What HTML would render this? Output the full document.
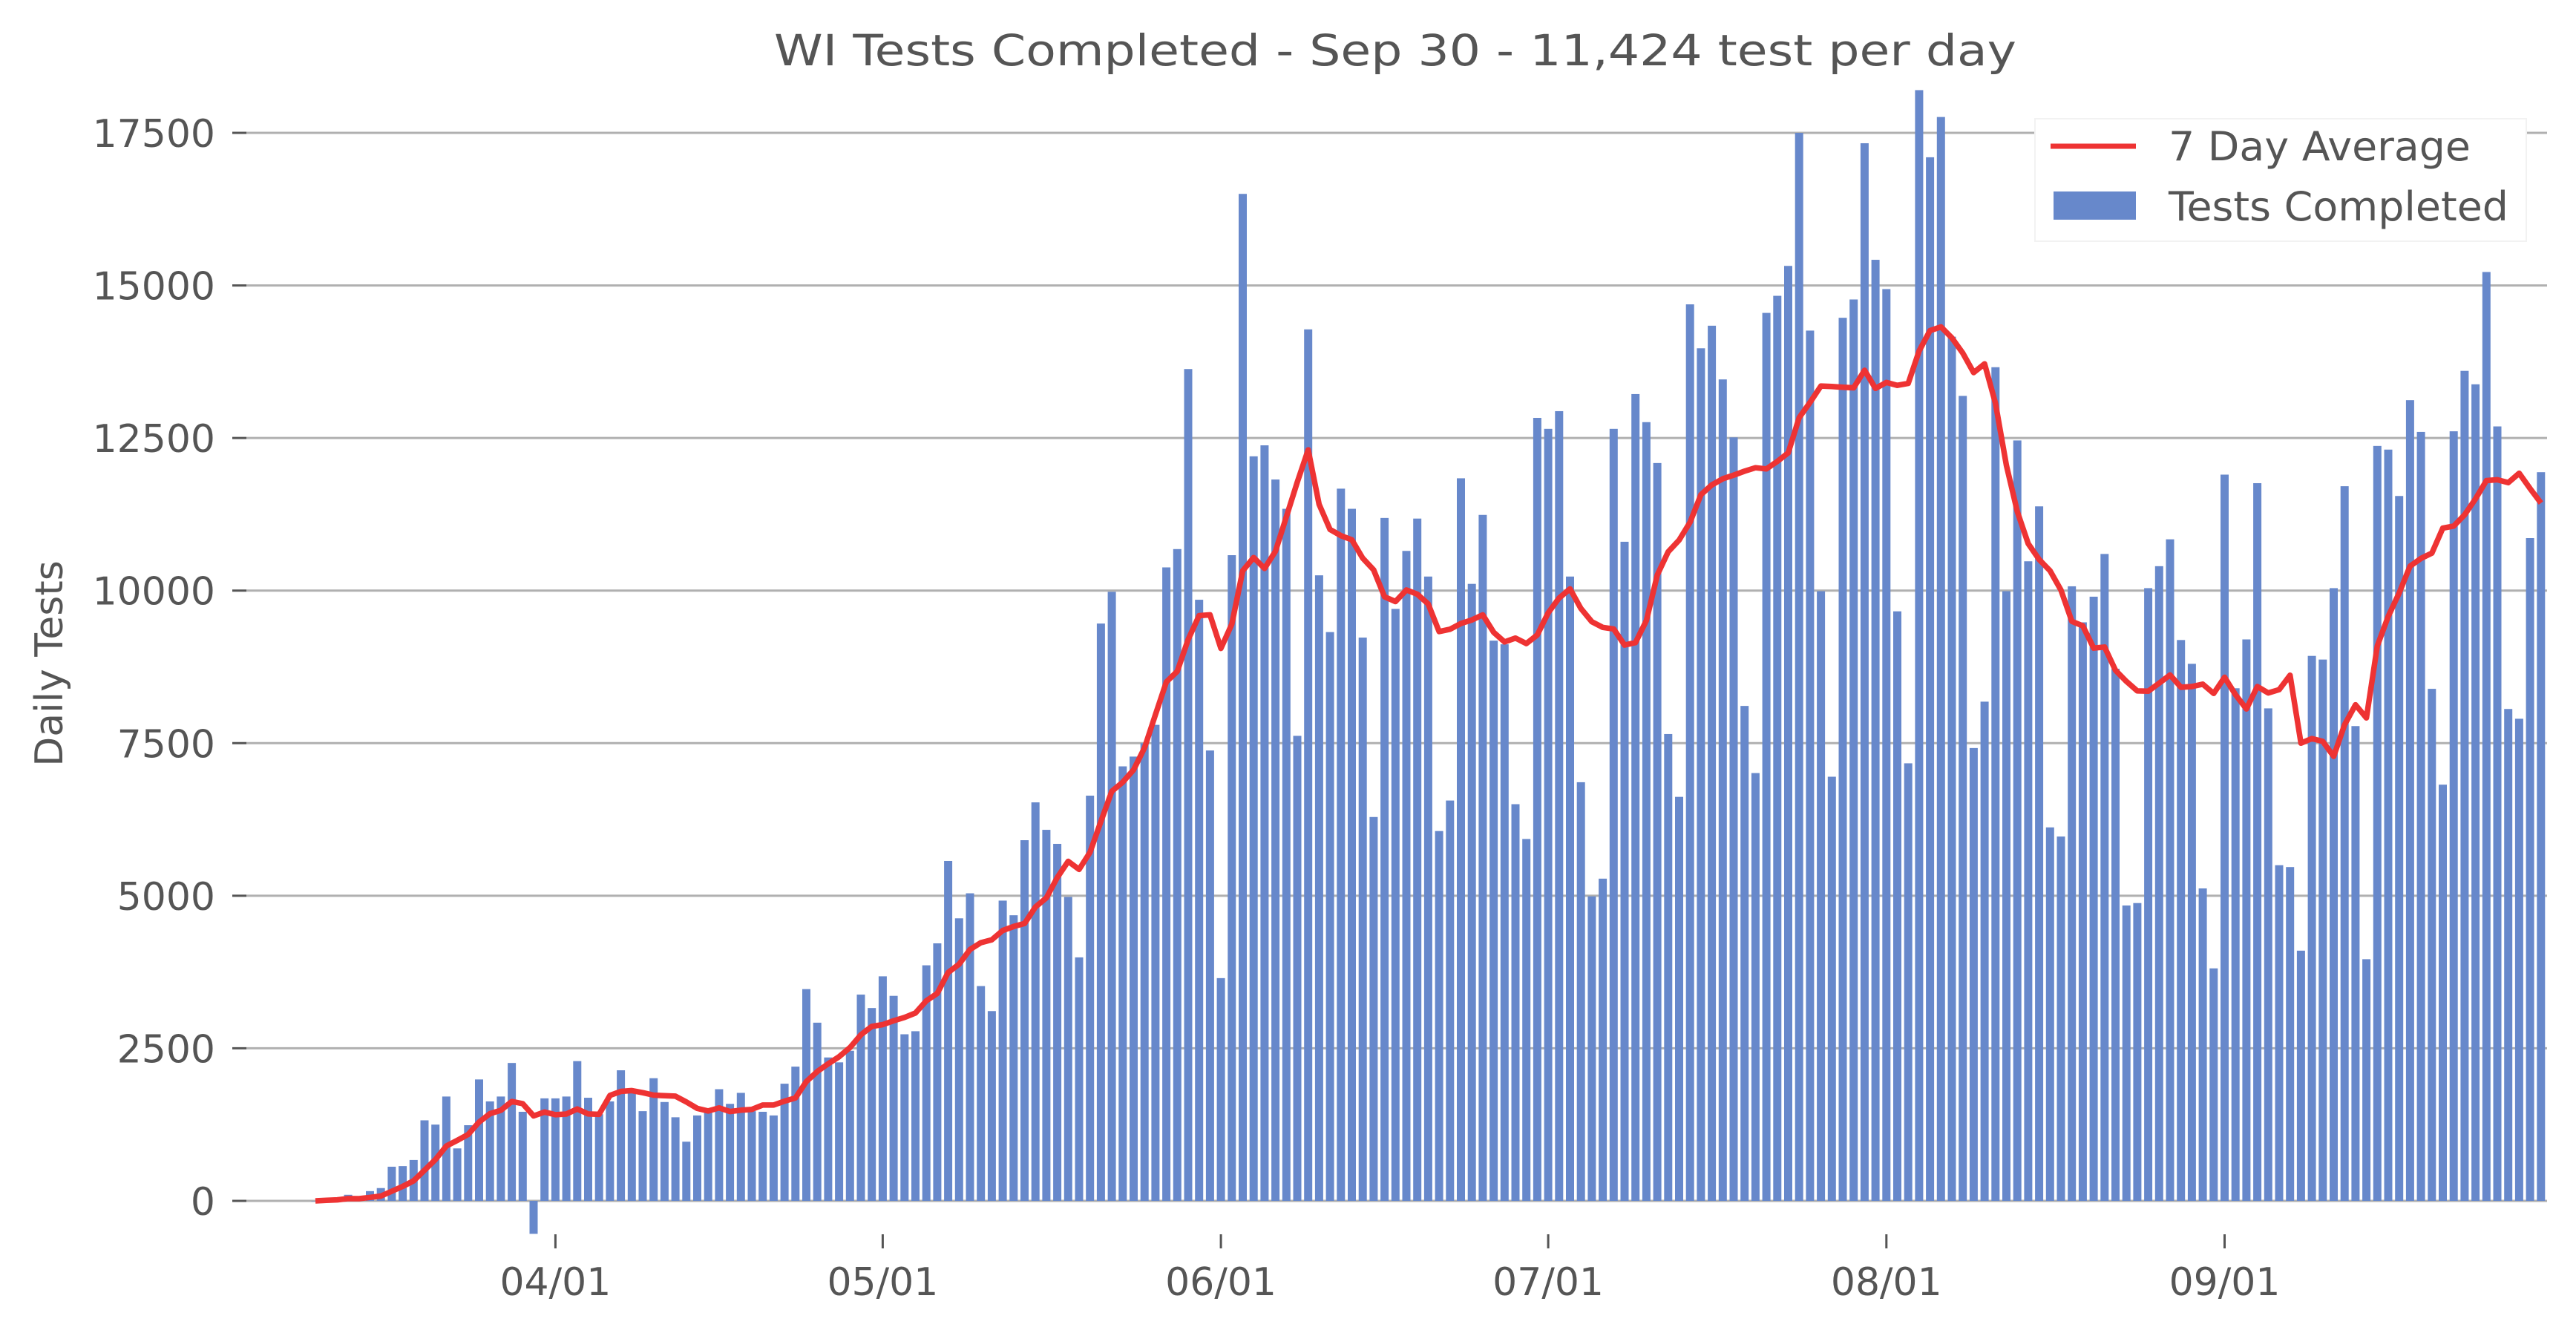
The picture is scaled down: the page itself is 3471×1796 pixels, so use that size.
<!DOCTYPE html>
<html><head><meta charset="utf-8"><style>
html,body{margin:0;padding:0;background:#fff;}
svg{display:block;font-family:"DejaVu Sans","Liberation Sans",sans-serif;}
</style></head><body>
<svg id="chart" width="3471" height="1796" viewBox="0 0 3471 1796" xmlns="http://www.w3.org/2000/svg">
<text x="1880" y="88" text-anchor="middle" font-size="58" fill="#555" textLength="1674" lengthAdjust="spacingAndGlyphs">WI Tests Completed - Sep 30 - 11,424 test per day</text>
<text transform="translate(84,894) rotate(-90)" text-anchor="middle" font-size="52" fill="#555">Daily Tests</text>
<g id="grid"></g>
<g id="bars"></g>
<g id="line"></g>
<g id="axes"></g>
<g>
<rect x="2742" y="160" width="662" height="165" fill="#fff" stroke="#f2f2f2" stroke-width="2"/>
<line x1="2763" y1="197" x2="2878" y2="197" stroke="#ee3333" stroke-width="7"/>
<text x="2922" y="216" font-size="54" fill="#555" textLength="407" lengthAdjust="spacingAndGlyphs">7 Day Average</text>
<rect x="2767" y="258" width="111" height="38" fill="#6788cb"/>
<text x="2922" y="297" font-size="54" fill="#555" textLength="458" lengthAdjust="spacingAndGlyphs">Tests Completed</text>
</g>
</svg>
<script>
const startLabel = "2020-03-10";
const dailyTests = [
0,20,30,100,30,160,210,560,570,670,1320,1250,1710,860,1240,1990,1630,1710,2260,1460,-540,1680,
1680,1710,2290,1690,1420,1630,2140,1770,1470,2010,1620,1370,970,1400,1470,1830,1590,1770,1470,1460,1400,1920,2200,3470,2920,2350,2270,2460,3380,3160,
3680,3360,2730,2780,3860,4220,5570,4630,5040,3520,3110,4920,4680,5910,6530,6080,5850,4980,3990,6640,9460,9980,7120,7280,7500,7800,10380,10680,13630,9850,7380,
3650,10580,16500,12200,12380,11820,11340,7620,14280,10250,9320,11670,11340,9230,6290,11190,9700,10650,11180,10230,6060,6560,11840,10110,11240,9180,9120,6500,5930,12830,
12650,12940,10230,6860,4990,5280,12650,10800,13220,12760,12090,7650,6620,14690,13970,14340,13460,12510,8110,7010,14550,14830,15320,17500,14260,9990,6950,14470,14770,17330,15420,
14940,9660,7170,18200,17100,17760,14160,13190,7420,8180,13660,9990,12460,10480,11380,6120,5970,10070,9480,9900,10600,8720,4840,4880,10040,10400,10840,9190,8800,5120,3810,
11900,8400,9200,11760,8070,5500,5470,4100,8930,8870,10040,11710,7780,3960,12370,12310,11550,13120,12600,8390,6820,12610,13600,13380,15220,12690,8060,7900,10860,11940
];
const yTicks = [0,2500,5000,7500,10000,12500,15000,17500];
const xTickLabels = ["04/01","05/01","06/01","07/01","08/01","09/01"];
const xTickDays = [22,52,83,113,144,175];

const NS="http://www.w3.org/2000/svg";
const X0=425, DX=14.70, Y0=1618, KY=1439/17500;
function xs(i){return X0+i*DX;}
function ys(v){return Y0-v*KY;}
function mk(tag,attrs,parent){const e=document.createElementNS(NS,tag);for(const k in attrs)e.setAttribute(k,attrs[k]);parent.appendChild(e);return e;}

const grid=document.getElementById('grid'), axes=document.getElementById('axes');
yTicks.forEach(t=>{
  const g=mk('line',{x1:332,x2:3432,y1:ys(t),y2:ys(t),stroke:'#b0b0b0','stroke-width':3},grid);
  
  
  const tk=mk('line',{x1:313,x2:332,y1:ys(t),y2:ys(t),stroke:'#555','stroke-width':3},axes);
  
  
  const tx=mk('text',{x:290,y:ys(t)+19,'text-anchor':'end','font-size':52,fill:'#555'},axes);
  
  
  tx.textContent=String(t);
});
xTickDays.forEach((d,k)=>{
  const tk=mk('line',{x1:xs(d),x2:xs(d),y1:1663,y2:1682,stroke:'#555','stroke-width':3},axes);
  
  
  const tx=mk('text',{x:xs(d),y:1745,'text-anchor':'middle','font-size':52,fill:'#555'},axes);
  
  
  tx.textContent=xTickLabels[k];
});
const bars=document.getElementById('bars');
dailyTests.forEach((v,i)=>{
  const y1=ys(Math.max(v,0)), y2=ys(Math.min(v,0));
  const r=mk('rect',{x:xs(i)-5.5,y:y1,width:11,height:Math.max(y2-y1,0.5),fill:'#6788cb'},bars);
  
  
});
// 7-day rolling average derived from the daily values
const pts=[];
dailyTests.forEach((v,i)=>{
  const s=dailyTests.slice(Math.max(0,i-6),i+1);
  const avg=s.reduce((a,b)=>a+b,0)/s.length;
  pts.push(xs(i).toFixed(1)+','+ys(avg).toFixed(1));
});
const pl=mk('polyline',{points:pts.join(' '),fill:'none',stroke:'#ee3333','stroke-width':7.5,'stroke-linejoin':'round'},document.getElementById('line'));


</script>
</body></html>
